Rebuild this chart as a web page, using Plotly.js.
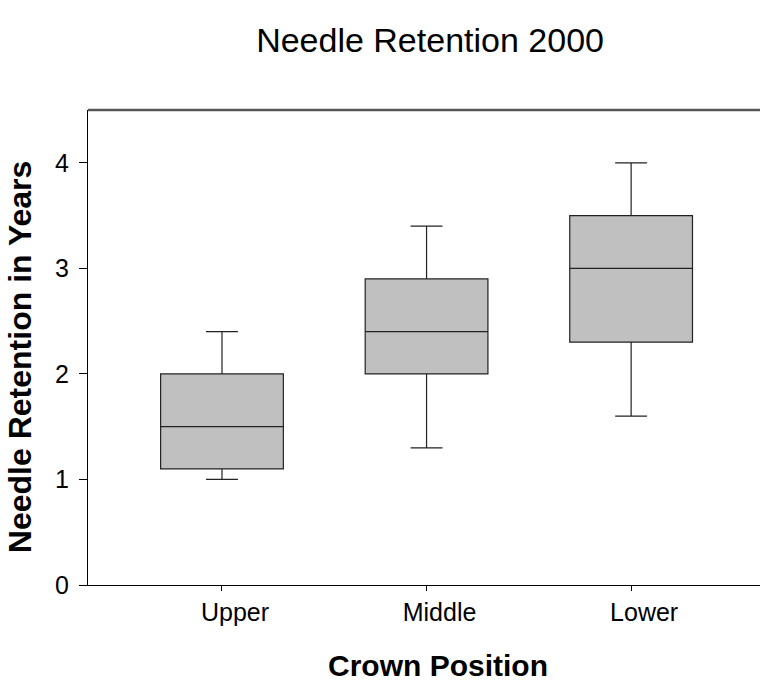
<!DOCTYPE html>
<html>
<head>
<meta charset="utf-8">
<script src="https://cdn.plot.ly/plotly-3.0.1.min.js"></script>
<style>html,body{margin:0;padding:0;background:#fff;}#chart{width:760px;height:681px;}</style>
</head>
<body>
<div id="chart"></div>
<script>
const categories = ["Upper", "Middle", "Lower"];
const lowerWhisker = [1.0, 1.3, 1.6];
const q1Values = [1.1, 2.0, 2.3];
const medianValues = [1.5, 2.4, 3.0];
const q3Values = [2.0, 2.9, 3.5];
const upperWhisker = [2.4, 3.4, 4.0];
const yTickValues = [0, 1, 2, 3, 4];

const trace = {
  type: "box",
  x: categories,
  q1: q1Values,
  median: medianValues,
  q3: q3Values,
  lowerfence: lowerWhisker,
  upperfence: upperWhisker,
  fillcolor: "#c0c0c0",
  line: {color: "#222222", width: 1.2},
  width: 0.6,
  whiskerwidth: 0.26,
  boxpoints: false,
  hoverinfo: "skip"
};

const font = "Liberation Sans, Arial, sans-serif";
const layout = {
  width: 760, height: 681,
  margin: {l: 88, r: 0, t: 110, b: 96},
  paper_bgcolor: "#fff", plot_bgcolor: "#fff",
  showlegend: false,
  font: {family: font, color: "#000"},
  title: {text: "Needle Retention 2000", font: {family: font, size: 34, color: "#000"},
          x: 0.509, xref: "paper", xanchor: "center", y: 0.941, yref: "container", yanchor: "middle"},
  xaxis: {
    type: "category", range: [-0.655, 2.63],
    showgrid: false, zeroline: false,
    showline: true, linecolor: "#000", linewidth: 1,
    ticks: "outside", ticklen: 5, tickcolor: "#000", tickwidth: 1,
    ticklabelshift: 13,
    tickfont: {family: font, size: 25, color: "#000"}
  },
  yaxis: {
    range: [0, 4.5], tickvals: yTickValues,
    showgrid: false, zeroline: false,
    showline: true, linecolor: "#000", linewidth: 1,
    ticks: "outside", ticklen: 8, tickcolor: "#000", tickwidth: 1,
    ticklabelstandoff: 5,
    tickfont: {family: font, size: 25, color: "#000"}
  },
  annotations: [
    {text: "<b>Crown Position</b>", xref: "paper", yref: "paper", x: 0.521, y: -0.1705,
     xanchor: "center", yanchor: "middle", showarrow: false,
     font: {family: font, size: 30, color: "#000"}},
    {text: "<b>Needle Retention in Years</b>", xref: "paper", yref: "paper", x: -0.101, y: 0.48,
     xanchor: "center", yanchor: "middle", textangle: -90, showarrow: false,
     font: {family: font, size: 32, color: "#000"}}
  ],
  shapes: [{type: "line", xref: "paper", yref: "paper", x0: 0, x1: 1, y0: 1, y1: 1,
            line: {color: "#555555", width: 2.5}}]
};

Plotly.newPlot("chart", [trace], layout, {staticPlot: true, displayModeBar: false});
</script>
</body>
</html>
